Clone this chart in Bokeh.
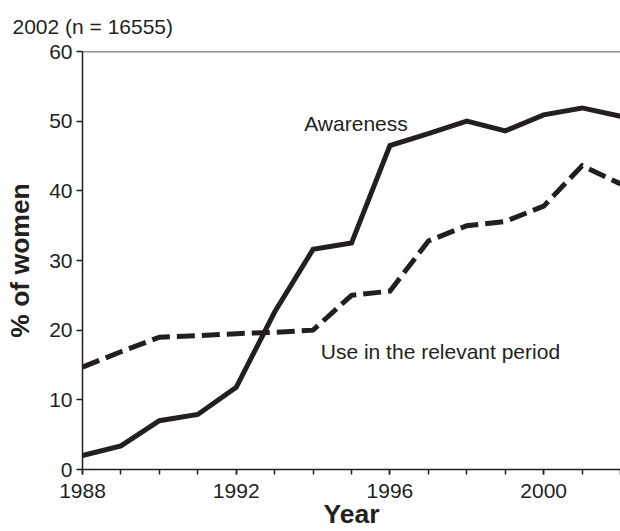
from bokeh.plotting import figure
from bokeh.models import Range1d, FixedTicker, Label, Span
from bokeh.embed import file_html
from bokeh.resources import INLINE

years = list(range(1988, 2003))
awareness = [2.0, 3.4, 7.0, 7.9, 11.8, 22.6, 31.6, 32.5, 46.5, 48.2, 50.0, 48.6, 50.9, 51.9, 50.7]
use_period = [14.7, 16.9, 19.0, 19.2, 19.5, 19.7, 20.0, 25.0, 25.6, 32.8, 35.0, 35.6, 37.8, 43.6, 41.0]
x_major_ticks = [1988, 1992, 1996, 2000]
y_ticks = [0, 10, 20, 30, 40, 50, 60]

title_text = "2002 (n = 16555)"
x_title = "Year"
y_title = "% of women"
label_awareness = "Awareness"
label_use = "Use in the relevant period"

FONT = "Liberation Sans"
INK = "#231f20"

p = figure(width=620, height=531, output_backend="svg", toolbar_location=None,
           x_range=Range1d(1988, 2002), y_range=Range1d(0, 60),
           min_border_left=82, min_border_right=0, min_border_top=0, min_border_bottom=62,
           title=title_text)

p.title.text_font = FONT
p.title.text_font_size = "21px"
p.title.text_font_style = "normal"
p.title.text_color = INK
p.title.align = "left"
p.title.offset = -70
p.title.vertical_align = "middle"
p.title.standoff = 26

p.outline_line_color = None
p.grid.grid_line_color = None
p.background_fill_color = "white"
p.border_fill_color = "white"

# x axis
p.xaxis.ticker = FixedTicker(ticks=x_major_ticks, minor_ticks=years)
p.xaxis.major_tick_out = 5
p.xaxis.major_tick_in = 0
p.xaxis.minor_tick_out = 5
p.xaxis.minor_tick_in = 0
p.xaxis.major_label_standoff = 9
p.xaxis.axis_label = x_title
p.xaxis.axis_label_standoff = -2

# y axis
p.yaxis.ticker = FixedTicker(ticks=y_ticks, minor_ticks=[])
p.yaxis.major_tick_out = 6
p.yaxis.major_tick_in = 0
p.yaxis.axis_label = y_title
p.yaxis.major_label_standoff = 4
p.yaxis.axis_label_standoff = 11

for ax in (p.xaxis, p.yaxis):
    ax.axis_line_color = INK
    ax.axis_line_width = 1.5
    ax.major_tick_line_color = INK
    ax.major_tick_line_width = 1.5
    ax.minor_tick_line_color = INK
    ax.minor_tick_line_width = 1.5
    ax.major_label_text_font = FONT
    ax.major_label_text_font_size = "21px"
    ax.major_label_text_color = INK
    ax.axis_label_text_font = FONT
    ax.axis_label_text_font_size = "26.5px"
    ax.axis_label_text_font_style = "bold"
    ax.axis_label_text_color = INK

p.yaxis.minor_tick_line_color = None

# top border line
p.add_layout(Span(location=60, dimension="width", line_color=INK, line_width=1.5))

# series
p.line(years, awareness, line_color=INK, line_width=5, line_join="miter")
p.line(years, use_period, line_color=INK, line_width=5, line_dash="18 7", line_join="miter")

p.add_layout(Label(x=1993.77, y=49.6, text=label_awareness, text_font=FONT,
                   text_font_size="21px", text_color=INK, text_baseline="alphabetic"))
p.add_layout(Label(x=1994.2, y=16.9, text=label_use, text_font=FONT,
                   text_font_size="21px", text_color=INK, text_baseline="alphabetic"))

open("out.html", "w").write(file_html(p, INLINE))
